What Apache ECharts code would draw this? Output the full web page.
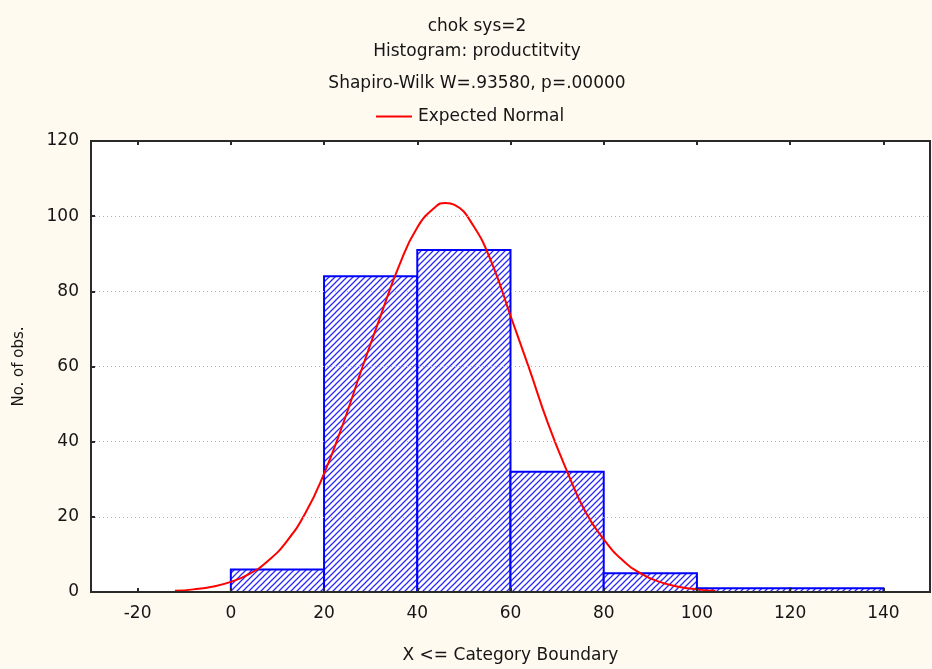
<!DOCTYPE html>
<html>
<head>
<meta charset="utf-8">
<script src="https://cdn.jsdelivr.net/npm/echarts@6/dist/echarts.min.js"></script>
<style>
  html, body { margin: 0; padding: 0; background: #fffaf0; }
  #chart { width: 932px; height: 669px; }
</style>
</head>
<body>
<div id="chart"></div>
<script>
// Histogram bins: lower and upper category boundaries with observation counts
const binLower = [0, 20, 40, 60, 80, 100, 120];
const binUpper = [20, 40, 60, 80, 100, 120, 140];
const binCounts = [6, 84, 91, 32, 5, 1, 1];

// Expected normal curve, sampled along X
const curveX = [-12, -8, -4, 0, 4, 8, 12, 16, 20, 24, 28, 32, 36, 40, 44, 46, 48, 52, 56, 60, 64, 68, 72, 76, 80, 84, 88, 92, 96, 100, 104];
const curveY = [0.3, 0.7, 1.4, 2.7, 4.8, 8.3, 13.5, 21, 31.5, 44.5, 59, 73, 86.5, 97, 102.6, 103.5, 103, 97.5, 87.5, 73.5, 59.5, 45, 32.5, 21.5, 14, 8.5, 4.9, 2.7, 1.4, 0.7, 0.3];

// Axis tick values
const xTicks = [-20, 0, 20, 40, 60, 80, 100, 120, 140];
const titleLines = ['chok sys=2', 'Histogram: productitvity', 'Shapiro-Wilk W=.93580, p=.00000'];

const FONT = 'DejaVu Sans';
const TXT = '#151515';
const FS = 17;

// Diagonal hatch fill for the bars
function makeHatch() {
  const s = 6;
  const c = document.createElement('canvas');
  c.width = s; c.height = s;
  const g = c.getContext('2d');
  g.fillStyle = '#ffffff';
  g.fillRect(0, 0, s, s);
  g.strokeStyle = '#2828ff';
  g.lineWidth = 1.25;
  g.beginPath();
  g.moveTo(-1, s + 1); g.lineTo(s + 1, -1);
  g.moveTo(-1, 1); g.lineTo(1, -1);
  g.moveTo(s - 1, s + 1); g.lineTo(s + 1, s - 1);
  g.stroke();
  return c;
}
const hatch = makeHatch();

const barData = binLower.map((lo, i) => [lo, binUpper[i], binCounts[i]]);
const lineData = curveX.map((x, i) => [x, curveY[i]]);

const chart = echarts.init(document.getElementById('chart'), null, { renderer: 'canvas' });

const titles = titleLines.map((t, i) => ({
  text: t,
  left: 472,
  top: [13, 38, 70][i],
  textAlign: 'center',
  textStyle: { fontFamily: FONT, fontSize: FS, fontWeight: 'normal', color: TXT }
}));

chart.setOption({
  backgroundColor: '#fffaf0',
  animation: false,
  title: titles,
  legend: {
    left: 371,
    top: 103,
    itemWidth: 36,
    itemHeight: 2,
    itemGap: 10,
    textStyle: { fontFamily: FONT, fontSize: FS, color: TXT, padding: [0, 0, 0, 1] },
    data: [{ name: 'Expected Normal', icon: 'rect', itemStyle: { color: '#ff0000' } }]
  },
  grid: {
    left: 91, top: 141, right: 2, bottom: 77,
    show: true,
    backgroundColor: '#ffffff',
    borderColor: '#2a2a2a',
    borderWidth: 2
  },
  xAxis: [{
    type: 'value',
    min: -30, max: 150,
    z: 10,
    name: 'X <= Category Boundary',
    nameLocation: 'middle',
    nameGap: 55,
    nameTextStyle: { fontFamily: FONT, fontSize: FS, color: TXT },
    axisLine: { show: true, onZero: false, lineStyle: { color: '#2a2a2a', width: 2 } },
    axisTick: { show: true, inside: true, length: 4, customValues: xTicks, lineStyle: { color: '#2a2a2a', width: 2 } },
    axisLabel: { customValues: xTicks, margin: 13, fontFamily: FONT, fontSize: FS, color: TXT },
    splitLine: { show: false }
  }, {
    type: 'value',
    position: 'top',
    min: -30, max: 150,
    z: 10,
    axisLine: { show: true, onZero: false, lineStyle: { color: '#2a2a2a', width: 2 } },
    axisTick: { show: true, inside: true, length: 4, customValues: xTicks, lineStyle: { color: '#2a2a2a', width: 2 } },
    axisLabel: { show: false },
    splitLine: { show: false }
  }],
  yAxis: {
    type: 'value',
    min: 0, max: 120, interval: 20,
    z: 10,
    name: 'No. of obs.',
    nameLocation: 'middle',
    nameRotate: 90,
    nameGap: 64,
    nameTextStyle: { fontFamily: FONT, fontSize: 15, color: TXT },
    axisLine: { show: true, onZero: false, lineStyle: { color: '#2a2a2a', width: 2 } },
    axisTick: { show: true, inside: true, length: 4, lineStyle: { color: '#2a2a2a', width: 2 } },
    axisLabel: { margin: 12, fontFamily: FONT, fontSize: FS, color: TXT },
    splitLine: {
      show: true,
      lineStyle: { color: '#b4b4b4', type: [1, 3], width: 1 }
    }
  },
  series: [{
    type: 'custom',
    name: 'Counts',
    z: 2,
    data: barData,
    encode: { x: [0, 1], y: 2 },
    renderItem: function (params, api) {
      const p0 = api.coord([api.value(0), 0]);
      const p1 = api.coord([api.value(1), api.value(2)]);
      return {
        type: 'rect',
        shape: { x: p0[0], y: p1[1], width: p1[0] - p0[0], height: p0[1] - p1[1] },
        style: {
          fill: { image: hatch, repeat: 'repeat' },
          stroke: '#0000ff',
          lineWidth: 2
        }
      };
    }
  }, {
    type: 'line',
    name: 'Expected Normal',
    z: 5,
    data: lineData,
    smooth: true,
    showSymbol: false,
    lineStyle: { color: '#ff0000', width: 2 },
    itemStyle: { color: '#ff0000' }
  }]
});
</script>
</body>
</html>
